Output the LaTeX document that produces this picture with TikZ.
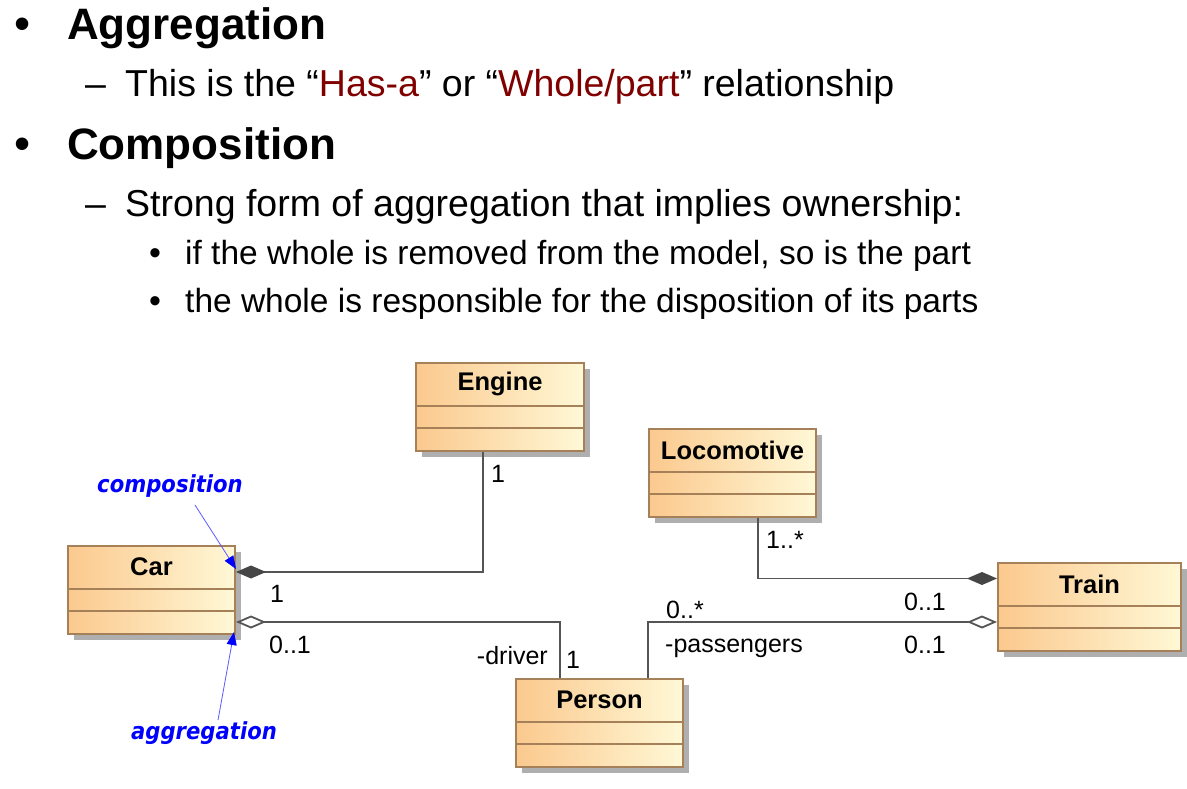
\documentclass[tikz,border=0pt]{standalone}
\usepackage{fontspec}
\setmainfont{Liberation Sans}
\newfontfamily\notefont[FakeStretch=0.9]{DejaVu Sans}
\usetikzlibrary{arrows.meta,calc}
\definecolor{darkred}{RGB}{128,0,0}
\definecolor{noteblue}{RGB}{0,0,255}
\definecolor{notelineblue}{RGB}{90,90,255}
\definecolor{conncol}{RGB}{85,85,85}
\definecolor{diamcol}{RGB}{70,70,70}
\definecolor{boxleft}{RGB}{251,201,142}
\definecolor{boxright}{RGB}{255,248,214}
\definecolor{boxborder}{RGB}{165,128,88}
\definecolor{shadowcol}{RGB}{175,175,175}
\tikzset{
  tone/.style={font=\fontsize{44}{52}\selectfont\bfseries, anchor=base west, inner sep=0pt},
  ttwo/.style={font=\fontsize{37.5}{44}\selectfont, anchor=base west, inner sep=0pt},
  tthree/.style={font=\fontsize{33.5}{40}\selectfont, anchor=base west, inner sep=0pt},
  bulletone/.style={font=\fontsize{46}{50}\selectfont, anchor=base, inner sep=0pt},
  bulletthree/.style={font=\fontsize{34}{38}\selectfont, anchor=base, inner sep=0pt},
  umlbox/.style={draw=boxborder, line width=2pt, left color=boxleft, right color=boxright,
    minimum height=88pt, inner sep=0pt},
  umlline/.style={draw=boxborder, line width=2pt},
  clstitle/.style={font=\fontsize{25.5}{30}\selectfont\bfseries, inner sep=0pt},
  mult/.style={font=\fontsize{25}{30}\selectfont, inner sep=0pt, anchor=base},
  conn/.style={draw=conncol, line width=1.8pt},
  compend/.style={{Diamond[length=30pt,width=13pt,fill=diamcol,color=diamcol]}-},
  aggend/.style={{Diamond[length=30pt,width=13pt,fill=white,color=conncol]}-},
  notetxt/.style={font=\notefont\bfseries\itshape\fontsize{23.5}{28}\selectfont, text=noteblue, inner sep=0pt},
  noteline/.style={draw=notelineblue, line width=0.8pt, -{Triangle[length=13pt,width=10pt,fill=noteblue,color=noteblue]}}
}
\newcommand{\umlcls}[5]{%
  \fill[shadowcol] (#2-#4/2+6, #3-44+6) rectangle (#2+#4/2+6, #3+44+6);
  \node[umlbox, minimum width=#4pt] (#1) at (#2,#3) {};
  \draw[umlline] ([yshift=-44pt]#1.north west) -- ([yshift=-44pt]#1.north east);
  \draw[umlline] ([yshift=-66pt]#1.north west) -- ([yshift=-66pt]#1.north east);
  \node[clstitle] (#1-name) at ([yshift=-22pt]#1.north) {#5};
}
\begin{document}
\begin{tikzpicture}[x=1pt,y=-1pt]
\useasboundingbox[fill=white] (0,0) rectangle (1187,789);

% ---- bullet text ----
\node[bulletone] (b1) at (22.5,40) {•};
\node[tone] (t1) at (67,40) {Aggregation};
\node[ttwo] (d1) at (85,97) {–};
\node[ttwo] (t1a) at (125,97) {This is the “{\color{darkred}Has-a}” or “{\color{darkred}Whole/part}” relationship};
\node[bulletone] (b2) at (22.5,160) {•};
\node[tone] (t2) at (67,160) {Composition};
\node[ttwo] (d2) at (85,216) {–};
\node[ttwo] (t2a) at (125,216) {Strong form of aggregation that implies ownership:};
\node[bulletthree] (b3) at (155,264) {•};
\node[tthree] (t3) at (185,264) {if the whole is removed from the model, so is the part};
\node[bulletthree] (b4) at (155,312) {•};
\node[tthree] (t4) at (185,312) {the whole is responsible for the disposition of its parts};

% ---- classes ----
\umlcls{engine}{500}{407}{168}{Engine}
\umlcls{loco}{732.5}{473}{167}{Locomotive}
\umlcls{car}{151.5}{590}{167}{Car}
\umlcls{train}{1089.5}{607}{183}{Train}
\umlcls{person}{599.5}{723}{167}{Person}

% ---- connectors ----
\draw[conn, compend] ([yshift=18pt]car.east) -| ([xshift=-17pt]engine.south);
\draw[conn, aggend] ([yshift=-32pt]car.east) -| ([xshift=-39.5pt]person.north);
\draw[conn, compend] ([yshift=28.5pt]train.west) -| ([xshift=25.5pt]loco.south);
\draw[conn, aggend] ([yshift=-15pt]train.west) -| ([xshift=48.5pt]person.north);

% ---- multiplicities / roles ----
\node[mult] (m-eng) at (498,482) {1};
\node[mult] (m-car1) at (277,602) {1};
\node[mult] (m-car2) at (290,653) {0..1};
\node[mult, anchor=base east] (r-driver) at (548,664) {-driver};
\node[mult] (m-pers1) at (573,668) {1};
\node[mult] (m-pers2) at (685,618) {0..*};
\node[mult, anchor=base west] (r-pass) at (665,652) {-passengers};
\node[mult] (m-loco) at (785,548) {1..*};
\node[mult] (m-train1) at (925,610) {0..1};
\node[mult] (m-train2) at (925,653) {0..1};

% ---- annotations ----
\node[notetxt] (n-comp) at (170,486) {composition};
\node[notetxt] (n-agg) at (204,733) {aggregation};
\coordinate (comp-from) at (195,505);
\coordinate (comp-to) at (236,569);
\coordinate (agg-from) at (218,720);
\coordinate (agg-to) at (234,632);
\draw[noteline] (comp-from) -- (comp-to);
\draw[noteline] (agg-from) -- (agg-to);
\end{tikzpicture}
\end{document}
